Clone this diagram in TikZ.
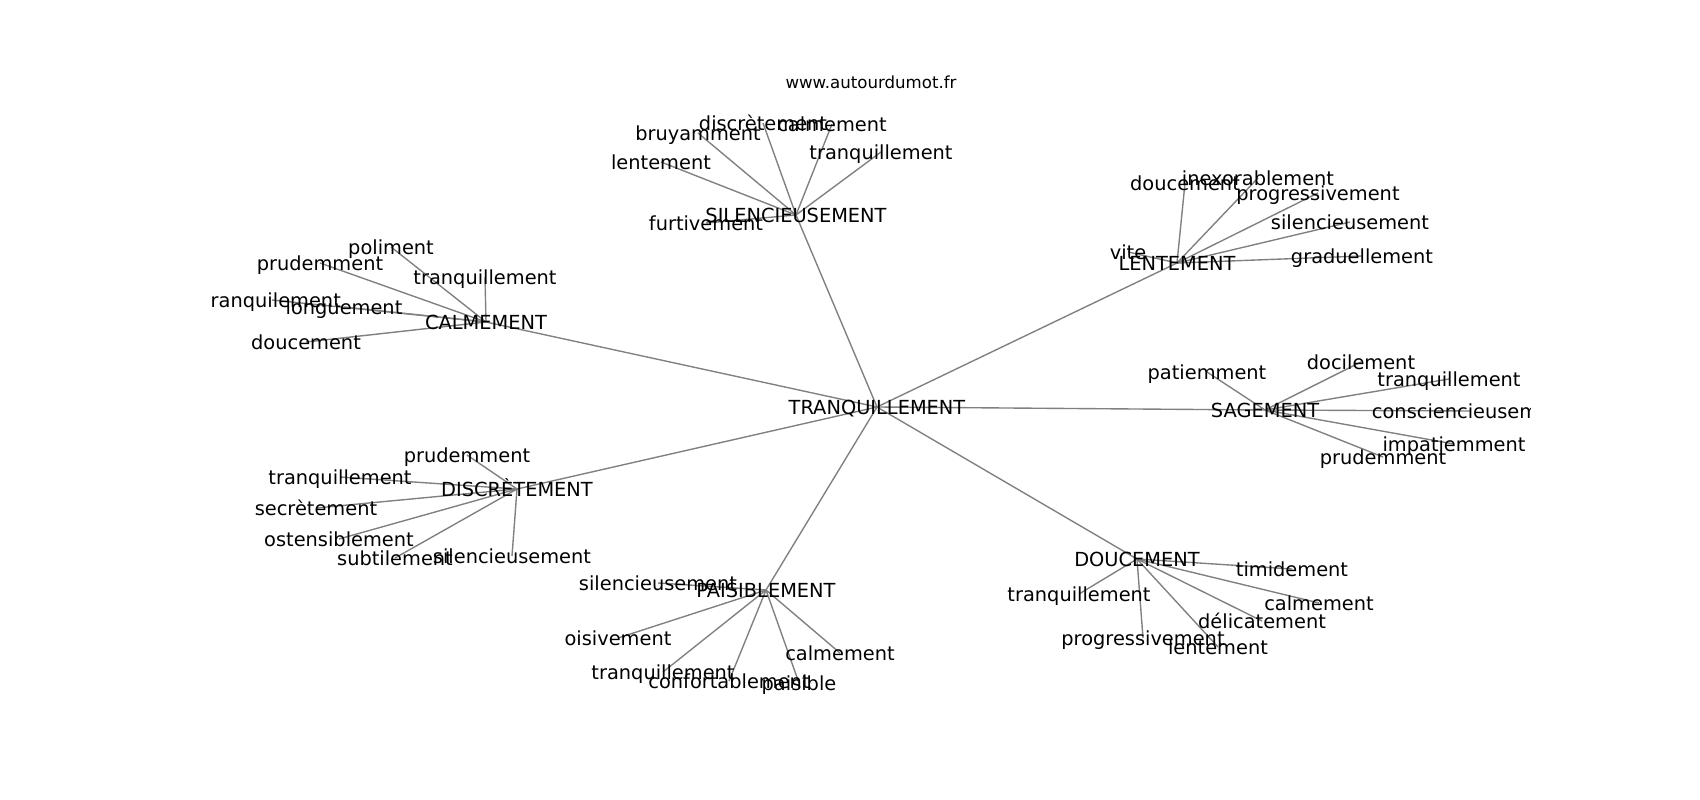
\documentclass[tikz,border=0pt]{standalone}
\usepackage{fontspec}
\setmainfont{DejaVu Sans}
\usetikzlibrary{backgrounds}

\begin{document}
\begin{tikzpicture}[x=0.01in, y=-0.01in,
        word/.style={inner sep=0pt, font=\fontsize{14}{16}\selectfont, text height=11.4pt, text depth=1.2pt},
        link/.style={draw=gray, line width=1pt}]
    \useasboundingbox (0,0) rectangle (1700,800);
    \node [inner sep=0pt, font=\fontsize{12}{14}\selectfont] (site) at (871,82) {www.autourdumot.fr};
    \begin{scope}
        \clip (212.5,96) rectangle (1530,712);
        \node [word] (tranq) at (877,407) {TRANQUILLEMENT};
        \node [word] (silen) at (796,215) {SILENCIEUSEMENT};
        \node [word] (lente) at (1177,263) {LENTEMENT};
        \node [word] (calme) at (486,322) {CALMEMENT};
        \node [word] (sagem) at (1265,410) {SAGEMENT};
        \node [word] (discr) at (517,489) {DISCRÈTEMENT};
        \node [word] (paisi) at (766,590) {PAISIBLEMENT};
        \node [word] (douce) at (1137,559) {DOUCEMENT};
        \node [word] (silen-a) at (763,123) {discrètement};
        \node [word] (silen-b) at (832,124) {calmement};
        \node [word] (silen-c) at (698,133) {bruyamment};
        \node [word] (silen-d) at (881,152) {tranquillement};
        \node [word] (silen-e) at (661,162) {lentement};
        \node [word] (silen-f) at (706,223) {furtivement};
        \node [word] (lente-a) at (1185,183) {doucement};
        \node [word] (lente-b) at (1258,178) {inexorablement};
        \node [word] (lente-c) at (1318,193) {progressivement};
        \node [word] (lente-d) at (1350,222) {silencieusement};
        \node [word] (lente-e) at (1362,256) {graduellement};
        \node [word] (lente-f) at (1128,252) {vite};
        \node [word] (calme-a) at (391,247) {poliment};
        \node [word] (calme-b) at (320,263) {prudemment};
        \node [word] (calme-c) at (485,277) {tranquillement};
        \node [word] (calme-d) at (272,300) {tranquilement};
        \node [word] (calme-e) at (344,307) {longuement};
        \node [word] (calme-f) at (306,342) {doucement};
        \node [word] (sagem-a) at (1207,372) {patiemment};
        \node [word] (sagem-b) at (1361,362) {docilement};
        \node [word] (sagem-c) at (1449,379) {tranquillement};
        \node [word] (sagem-d) at (1471,411) {consciencieusement};
        \node [word] (sagem-e) at (1454,444) {impatiemment};
        \node [word] (sagem-f) at (1383,457) {prudemment};
        \node [word] (discr-a) at (467,455) {prudemment};
        \node [word] (discr-b) at (340,477) {tranquillement};
        \node [word] (discr-c) at (316,508) {secrètement};
        \node [word] (discr-d) at (339,539) {ostensiblement};
        \node [word] (discr-e) at (395,558) {subtilement};
        \node [word] (discr-f) at (512,556) {silencieusement};
        \node [word] (paisi-a) at (658,583) {silencieusement};
        \node [word] (paisi-b) at (618,638) {oisivement};
        \node [word] (paisi-c) at (663,672) {tranquillement};
        \node [word] (paisi-d) at (729,681) {confortablement};
        \node [word] (paisi-e) at (799,683) {paisible};
        \node [word] (paisi-f) at (840,653) {calmement};
        \node [word] (douce-a) at (1292,569) {timidement};
        \node [word] (douce-b) at (1319,603) {calmement};
        \node [word] (douce-c) at (1262,621) {délicatement};
        \node [word] (douce-d) at (1079,594) {tranquillement};
        \node [word] (douce-e) at (1143,638) {progressivement};
        \node [word] (douce-f) at (1218,647) {lentement};
    \end{scope}
    \begin{pgfonlayer}{background}
        \foreach \hub in {silen,lente,calme,sagem,discr,paisi,douce} {
            \draw [link] (tranq.center) -- (\hub.center);
            \foreach \leaf in {a,b,c,d,e,f}
                \draw [link] (\hub.center) -- (\hub-\leaf.center);
        }
    \end{pgfonlayer}
\end{tikzpicture}
\end{document}
